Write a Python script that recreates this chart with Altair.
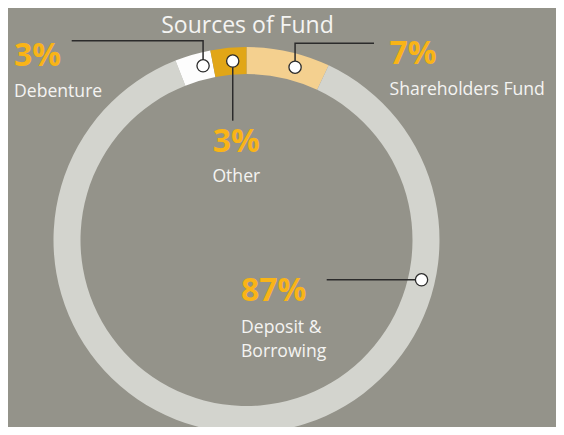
import math
import altair as alt
import pandas as pd

# ---------------- data ----------------
categories = ["Shareholders Fund", "Deposit & Borrowing", "Debenture", "Other"]
shares = [7, 87, 3, 3]
ring_colors = ["#f4d08f", "#d3d4ce", "#fdfdfd", "#e1a617"]
title_text = "Sources of Fund"

# ---------------- layout (chart pixels; page margin is 8px) ----------------
W, H = 548, 419
CX, CY = 238.5, 232.0
R_OUT, R_IN = 193, 166
R_MID = (R_OUT + R_IN) / 2
BG = "#94938a"
PCT_COLOR = "#f9b417"
NAME_COLOR = "#f4f4f2"
LINE_COLOR = "#2b2b2b"
FONT = "Open Sans"

marker_angle = {"Shareholders Fund": 15.7, "Deposit & Borrowing": 102.8,
                "Debenture": -14.0, "Other": -4.4}
leader_turn_y = {"Shareholders Fund": 35.3, "Deposit & Borrowing": None,
                 "Debenture": 32.7, "Other": 112.7}
leader_end_x = {"Shareholders Fund": 366.0, "Deposit & Borrowing": 318.7,
                "Debenture": 63.7, "Other": None}
label_pos = {  # (x, pct baseline y, name baseline y, align)
    "Shareholders Fund": (381.5, 56.3, 87.0, "left"),
    "Deposit & Borrowing": (233.0, 292.7, 325.3, "left"),
    "Debenture": (6.0, 58.0, 88.7, "left"),
    "Other": (228.3, 143.7, 173.7, "center"),
}

# ---------------- tables ----------------
ring = pd.DataFrame({"category": categories, "share": shares,
                     "ord": list(range(len(categories)))})

mk_rows, ln_rows, lab_rows = [], [], []
for c, v in zip(categories, shares):
    a = math.radians(marker_angle[c])
    mx, my = CX + R_MID * math.sin(a), CY - R_MID * math.cos(a)
    mk_rows.append({"category": c, "x": mx, "y": my})
    pts = [(mx, my)]
    if leader_turn_y[c] is not None:
        pts.append((mx, leader_turn_y[c]))
    if leader_end_x[c] is not None:
        pts.append((leader_end_x[c], pts[-1][1]))
    for i, (px, py) in enumerate(pts):
        ln_rows.append({"category": c, "i": i, "x": px, "y": py})
    lx, py_, ny, al = label_pos[c]
    name = c.replace("& ", "&\n") if c.startswith("Deposit") else c
    lab_rows.append({"category": c, "x": lx, "py": py_, "ny": ny, "align": al,
                     "pct": f"{v}%", "name": name})

markers = pd.DataFrame(mk_rows)
leaders = pd.DataFrame(ln_rows)
labels = pd.DataFrame(lab_rows)

xs = alt.Scale(domain=[0, W], range=[0, W], nice=False, zero=False)
ys = alt.Scale(domain=[0, H], range=[0, H], nice=False, zero=False)

color_scale = alt.Scale(domain=categories, range=ring_colors)

ring_layer = alt.Chart(ring).mark_arc(
    outerRadius=R_OUT, innerRadius=R_IN, stroke=None
).encode(
    theta=alt.Theta("share:Q", stack=True),
    order=alt.Order("ord:Q"),
    color=alt.Color("category:N", scale=color_scale, legend=None),
    x=alt.value(CX), y=alt.value(CY),
)

line_layer = alt.Chart(leaders).mark_line(
    color=LINE_COLOR, strokeWidth=1.5, interpolate="linear"
).encode(
    x=alt.X("x:Q", scale=xs, axis=None),
    y=alt.Y("y:Q", scale=ys, axis=None),
    detail="category:N",
    order="i:Q",
)

marker_layer = alt.Chart(markers).mark_point(
    shape="circle", filled=True, fill="white", stroke=LINE_COLOR,
    strokeWidth=1.3, size=150, opacity=1
).encode(
    x=alt.X("x:Q", scale=xs, axis=None),
    y=alt.Y("y:Q", scale=ys, axis=None),
)

def text_layers(align):
    sub = labels[labels["align"] == align]
    pct = alt.Chart(sub).mark_text(
        align=align, baseline="alphabetic", font=FONT, fontSize=32,
        fontWeight="bold", color=PCT_COLOR
    ).encode(
        x=alt.X("x:Q", scale=xs, axis=None),
        y=alt.Y("py:Q", scale=ys, axis=None),
        text="pct:N",
    )
    nm = alt.Chart(sub).mark_text(
        align=align, baseline="alphabetic", font=FONT, fontSize=17.6,
        color=NAME_COLOR, lineBreak="\n", lineHeight=23.4
    ).encode(
        x=alt.X("x:Q", scale=xs, axis=None),
        y=alt.Y("ny:Q", scale=ys, axis=None),
        text="name:N",
    )
    return [pct, nm]

title_layer = alt.Chart(pd.DataFrame({"t": [title_text]})).mark_text(
    align="center", baseline="alphabetic", font=FONT, fontSize=23,
    color=NAME_COLOR
).encode(
    x=alt.value(239.5), y=alt.value(25), text="t:N"
)

chart = alt.layer(
    ring_layer, line_layer, marker_layer,
    *text_layers("left"), *text_layers("center"), title_layer
).properties(
    width=W, height=H, padding=0,
    autosize=alt.AutoSizeParams(type="none"),
    background=BG,
).configure_view(stroke=None)

chart.save("out.html", embed_options={"renderer": "svg", "actions": False})
